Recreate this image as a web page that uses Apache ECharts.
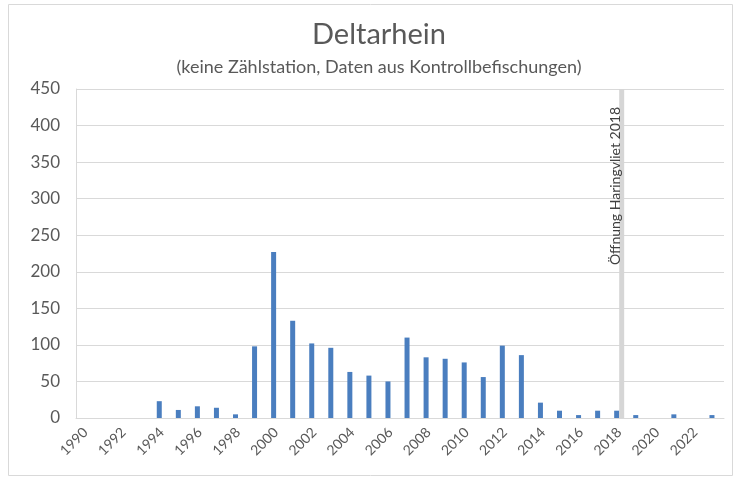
<!DOCTYPE html>
<html>
<head>
<meta charset="utf-8">
<script src="https://cdn.jsdelivr.net/npm/echarts@6/dist/echarts.min.js"></script>
<style>
  html, body { margin: 0; padding: 0; background: #fff; }
  #chart { width: 734px; height: 478px; }
</style>
</head>
<body>
<div id="chart"></div>
<script>
// years on the x axis
const years = [];
for (let y = 1990; y <= 2023; y++) years.push(String(y));

// fish counts per year, null = no bar
const counts = [
  null, null, null, null, 23, 11, 16, 14, 5, 98,
  227, 133, 102, 96, 63, 58, 50, 110, 83, 81,
  76, 56, 99, 86, 21, 10, 4, 10, 10, 4,
  null, 5, null, 4
];

// marker for the opening of the Haringvliet sluices
const markerYear = '2018';
const markerHeight = 450;
const markerText = 'Öffnung Haringvliet 2018';
const marker = years.map(y => (y === markerYear ? markerHeight : null));

const titleText = 'Deltarhein';
const subtitleText = '(keine Zählstation, Daten aus Kontrollbefischungen)';

const font = 'Lato, "Open Sans", sans-serif';

const chart = echarts.init(document.getElementById('chart'));
chart.setOption({
  animation: false,
  textStyle: { fontFamily: font },
  graphic: [{
    type: 'rect',
    shape: { x: 8.5, y: 4.5, width: 724, height: 471 },
    style: { fill: 'none', stroke: '#d9d9d9', lineWidth: 1 },
    silent: true
  }],
  title: [
    {
      text: titleText,
      left: 374, top: 15, textAlign: 'center',
      textStyle: { fontFamily: font, fontSize: 29, fontWeight: 'normal', color: '#595959' }
    },
    {
      text: subtitleText,
      left: 374, top: 53, textAlign: 'center',
      textStyle: { fontFamily: font, fontSize: 18, fontWeight: 'normal', color: '#595959' }
    }
  ],
  grid: { left: 76, right: 10, top: 89, bottom: 60 },
  xAxis: {
    type: 'category',
    data: years,
    axisLine: { lineStyle: { color: '#d9d9d9' } },
    axisTick: { interval: 1, length: 5, lineStyle: { color: '#d9d9d9' } },
    axisLabel: { interval: 1, rotate: 45, fontSize: 14, color: '#595959', margin: 12 }
  },
  yAxis: {
    type: 'value',
    min: 0, max: 450, interval: 50,
    axisLine: { show: true, lineStyle: { color: '#d9d9d9' } },
    axisTick: { show: false },
    axisLabel: { fontSize: 17, color: '#595959', margin: 16 },
    splitLine: { lineStyle: { color: '#d9d9d9' } }
  },
  series: [
    {
      type: 'bar',
      data: counts,
      barWidth: 5,
      barGap: '0%',
      itemStyle: { color: '#4a7ebf' }
    },
    {
      type: 'bar',
      data: marker,
      barWidth: 5,
      itemStyle: { color: '#d6d6d6' },
      label: {
        show: true,
        formatter: markerText,
        rotate: 90,
        position: [-4, 18],
        align: 'right',
        verticalAlign: 'middle',
        fontSize: 14,
        color: '#404040'
      }
    }
  ]
});
</script>
</body>
</html>
